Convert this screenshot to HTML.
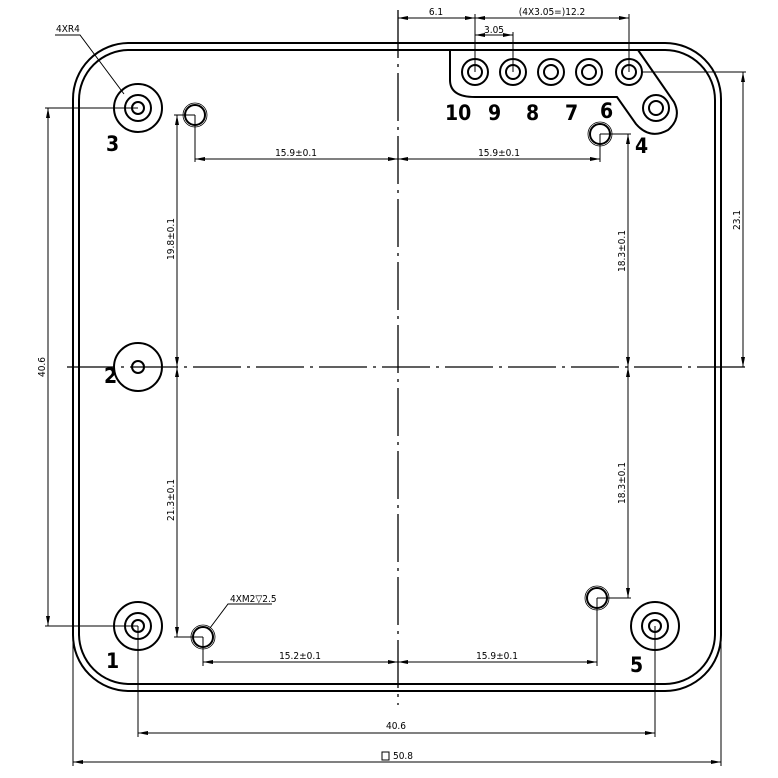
<!DOCTYPE html>
<html><head><meta charset="utf-8"><style>
html,body{margin:0;padding:0;background:#fff}
svg{display:block}
text{font-family:"DejaVu Sans Condensed","Liberation Sans Narrow","Liberation Sans",sans-serif;fill:#000}
.t{font-size:10px}
.n{font-size:21px;font-weight:bold}
</style></head><body>
<svg width="778" height="778" viewBox="0 0 778 778" xmlns="http://www.w3.org/2000/svg">
<defs>
<marker id="a" viewBox="0 0 10 4" refX="10" refY="2" markerWidth="10" markerHeight="4" orient="auto-start-reverse" markerUnits="userSpaceOnUse"><path d="M0,0 L10,2 L0,4 z" fill="#000"/></marker>
</defs>
<g fill="none" stroke="#000">
<rect x="73" y="43" width="648" height="648" rx="56" stroke-width="2"/>
<rect x="79" y="50" width="636" height="634" rx="50" stroke-width="2"/>
<line x1="398" y1="10" x2="398" y2="705" stroke-width="1.3" stroke-dasharray="48,6,3,6"/>
<line x1="67" y1="367" x2="750" y2="367" stroke-width="1.3" stroke-dasharray="48,6,3,6"/>
<g stroke-width="2">
<circle cx="138" cy="108" r="24"/><circle cx="138" cy="108" r="13"/><circle cx="138" cy="108" r="6"/>
<circle cx="138" cy="626" r="24"/><circle cx="138" cy="626" r="13"/><circle cx="138" cy="626" r="6"/>
<circle cx="655" cy="626" r="24"/><circle cx="655" cy="626" r="13"/><circle cx="655" cy="626" r="6"/>
<circle cx="138" cy="367" r="24"/><circle cx="138" cy="367" r="6"/>
</g>
<g stroke-width="2">
<circle cx="195" cy="115" r="10"/><circle cx="600" cy="134" r="10"/><circle cx="203" cy="637" r="10"/><circle cx="597" cy="598" r="10"/>
</g>
<g stroke-width="0.8">
<circle cx="195" cy="115" r="12"/><circle cx="600" cy="134" r="12"/><circle cx="203" cy="637" r="12"/><circle cx="597" cy="598" r="12"/>
</g>
<path d="M450,50 L450,80 Q450,97 475,97 L617,97 L636,124 Q650,140 668,130 Q682,118 674,102 L638,50" stroke-width="2"/>
<g stroke-width="2">
<circle cx="475" cy="72" r="13"/><circle cx="475" cy="72" r="7"/>
<circle cx="513" cy="72" r="13"/><circle cx="513" cy="72" r="7"/>
<circle cx="551" cy="72" r="13"/><circle cx="551" cy="72" r="7"/>
<circle cx="589" cy="72" r="13"/><circle cx="589" cy="72" r="7"/>
<circle cx="629" cy="72" r="13"/><circle cx="629" cy="72" r="7"/>
<circle cx="656" cy="108" r="13"/><circle cx="656" cy="108" r="7"/>
</g>
<g stroke-width="1">
<line x1="475" y1="14" x2="475" y2="72"/><line x1="629" y1="14" x2="629" y2="72"/><line x1="513" y1="32" x2="513" y2="72"/>
<line x1="398" y1="18" x2="475" y2="18" marker-start="url(#a)" marker-end="url(#a)"/>
<line x1="475" y1="18" x2="629" y2="18" marker-start="url(#a)" marker-end="url(#a)"/>
<line x1="475" y1="35" x2="513" y2="35" marker-start="url(#a)" marker-end="url(#a)"/>
<line x1="642" y1="72" x2="746" y2="72"/>
<line x1="743" y1="72" x2="743" y2="367" marker-start="url(#a)" marker-end="url(#a)"/>
<line x1="45" y1="108" x2="138" y2="108"/><line x1="45" y1="626" x2="138" y2="626"/>
<line x1="48" y1="108" x2="48" y2="626" marker-start="url(#a)" marker-end="url(#a)"/>
<line x1="174" y1="115" x2="195" y2="115"/><line x1="174" y1="637" x2="203" y2="637"/>
<line x1="177" y1="115" x2="177" y2="367" marker-start="url(#a)" marker-end="url(#a)"/>
<line x1="177" y1="367" x2="177" y2="637" marker-start="url(#a)" marker-end="url(#a)"/>
<line x1="600" y1="134" x2="631" y2="134"/><line x1="597" y1="598" x2="631" y2="598"/>
<line x1="628" y1="134" x2="628" y2="367" marker-start="url(#a)" marker-end="url(#a)"/>
<line x1="628" y1="367" x2="628" y2="598" marker-start="url(#a)" marker-end="url(#a)"/>
<line x1="195" y1="115" x2="195" y2="162"/><line x1="600" y1="134" x2="600" y2="162"/>
<line x1="195" y1="159" x2="398" y2="159" marker-start="url(#a)" marker-end="url(#a)"/>
<line x1="398" y1="159" x2="600" y2="159" marker-start="url(#a)" marker-end="url(#a)"/>
<line x1="203" y1="637" x2="203" y2="666"/><line x1="597" y1="598" x2="597" y2="666"/>
<line x1="203" y1="662" x2="398" y2="662" marker-start="url(#a)" marker-end="url(#a)"/>
<line x1="398" y1="662" x2="597" y2="662" marker-start="url(#a)" marker-end="url(#a)"/>
<line x1="138" y1="626" x2="138" y2="737"/><line x1="655" y1="626" x2="655" y2="737"/>
<line x1="138" y1="733" x2="655" y2="733" marker-start="url(#a)" marker-end="url(#a)"/>
<line x1="73" y1="640" x2="73" y2="766"/><line x1="721" y1="640" x2="721" y2="766"/>
<line x1="73" y1="762" x2="721" y2="762" marker-start="url(#a)" marker-end="url(#a)"/>
<polyline points="55,35 80,35 124,94"/>
<polyline points="272,604 228,604 210,628"/>
</g>
<rect x="382" y="752" width="7" height="8" stroke-width="1"/>
</g>
<g class="t">
<text x="436" y="15" text-anchor="middle">6.1</text>
<text x="552" y="15" text-anchor="middle">(4X3.05=)12.2</text>
<text x="494" y="33" text-anchor="middle">3.05</text>
<text x="56" y="32">4XR4</text>
<text x="230" y="602">4XM2▽2.5</text>
<text x="296" y="156" text-anchor="middle">15.9±0.1</text>
<text x="499" y="156" text-anchor="middle">15.9±0.1</text>
<text x="300" y="659" text-anchor="middle">15.2±0.1</text>
<text x="497" y="659" text-anchor="middle">15.9±0.1</text>
<text x="396" y="729" text-anchor="middle">40.6</text>
<text x="403" y="759" text-anchor="middle">50.8</text>
<text transform="translate(45,367) rotate(-90)" text-anchor="middle">40.6</text>
<text transform="translate(174,239) rotate(-90)" text-anchor="middle">19.8±0.1</text>
<text transform="translate(174,500) rotate(-90)" text-anchor="middle">21.3±0.1</text>
<text transform="translate(625,251) rotate(-90)" text-anchor="middle">18.3±0.1</text>
<text transform="translate(625,483) rotate(-90)" text-anchor="middle">18.3±0.1</text>
<text transform="translate(740,220) rotate(-90)" text-anchor="middle">23.1</text>
</g>
<g class="n">
<text x="445" y="120">10</text>
<text x="488" y="120">9</text>
<text x="526" y="120">8</text>
<text x="565" y="120">7</text>
<text x="600" y="118">6</text>
<text x="635" y="153">4</text>
<text x="106" y="151">3</text>
<text x="104" y="383">2</text>
<text x="106" y="668">1</text>
<text x="630" y="672">5</text>
</g>
</svg>
</body></html>
